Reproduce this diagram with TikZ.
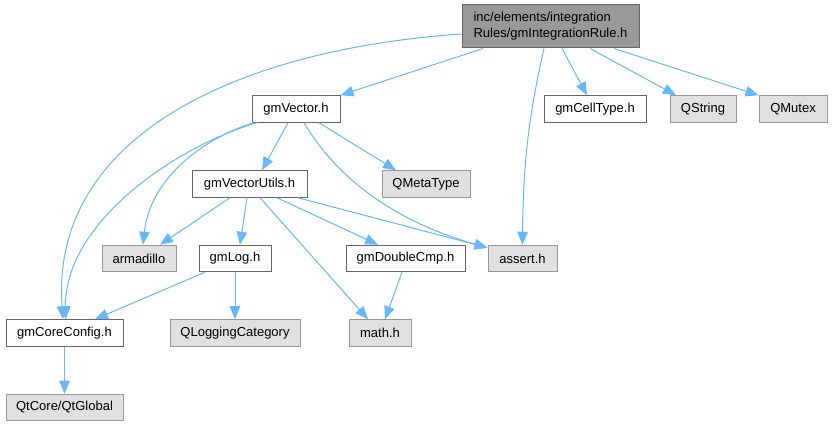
\documentclass[tikz,border=0pt]{standalone}
\usepackage{fontspec}
\setmainfont{Liberation Sans}
\usepackage{xcolor}
\usepackage{tikz}
\usetikzlibrary{arrows.meta}

\definecolor{edgeblue}{HTML}{63B8FF}
\definecolor{rootfill}{HTML}{999999}
\definecolor{darkline}{HTML}{666666}
\definecolor{extfill}{HTML}{E0E0E0}
\definecolor{extline}{HTML}{999999}

\begin{document}
\begin{tikzpicture}[x=1pt, y=-1pt,
    >={Triangle[length=13pt,width=10.5pt]},
    box/.style={draw, line width=1pt, minimum height=26.5pt, inner sep=2pt,
        font=\fontsize{13}{16}\selectfont},
    hdr/.style={box, draw=darkline, fill=white},
    ext/.style={box, draw=extline, fill=extfill},
    dep/.style={->, edgeblue, line width=1pt}]
    \useasboundingbox (0,0) rectangle (833,427);

    % Root header
    \node[box, draw=darkline, fill=rootfill, minimum width=177pt, minimum height=43pt, align=left]
        (root) at (550.5,26.5) {inc/elements/integration\\Rules/gmIntegrationRule.h};

    % Second row
    \node[hdr, minimum width=88pt] (vec) at (296,109) {gmVector.h};
    \node[hdr, minimum width=102pt] (cell) at (595,109) {gmCellType.h};
    \node[ext, minimum width=66pt] (qstr) at (703,109) {QString};
    \node[ext, minimum width=68pt] (qmutex) at (793,109) {QMutex};

    % Third row
    \node[hdr, minimum width=115pt] (vutil) at (249.5,184) {gmVectorUtils.h};
    \node[ext, minimum width=88pt] (qmeta) at (426,184) {QMetaType};

    % Fourth row
    \node[ext, minimum width=74pt] (arma) at (139,258.5) {armadillo};
    \node[hdr, minimum width=72pt] (log) at (235,258.5) {gmLog.h};
    \node[hdr, minimum width=119pt] (dcmp) at (405.5,258.5) {gmDoubleCmp.h};
    \node[ext, minimum width=69pt] (assert) at (522.5,258.5) {assert.h};

    % Fifth row
    \node[hdr, minimum width=117pt] (core) at (64.5,333) {gmCoreConfig.h};
    \node[ext, minimum width=130pt] (qlog) at (235,333) {QLoggingCategory};
    \node[ext, minimum width=62pt] (math) at (380,333) {math.h};

    % Bottom
    \node[ext, minimum width=117pt] (qtg) at (64.5,407.5) {QtCore/QtGlobal};

    % Edges from the root
    \draw[dep] ([yshift=-7.5pt]root.west) .. controls (230,50) and (50,140) .. ([xshift=-1.5pt]core.north);
    \draw[dep] ([xshift=-67.5pt]root.south) -- (vec.north east);
    \draw[dep] ([xshift=-6.5pt]root.south) .. controls (530,110) and (523,160) .. (assert.north);
    \draw[dep] ([xshift=11.5pt]root.south) -- ([xshift=-8pt]cell.north);
    \draw[dep] ([xshift=39.5pt]root.south) -- ([xshift=-27pt]qstr.north);
    \draw[dep] ([xshift=63.5pt]root.south) -- (qmutex.north west);

    % Edges from gmVector.h
    \draw[dep] ([xshift=-8pt]vec.south) -- ([xshift=12.5pt]vutil.north);
    \draw[dep] ([xshift=23pt]vec.south) -- ([xshift=-30pt]qmeta.north);
    \draw[dep] ([xshift=8pt]vec.south) .. controls (335,175) and (390,220) .. ([yshift=-3pt]assert.north west);
    \draw[dep] ([xshift=-39pt]vec.south) .. controls (180,145) and (65,220) .. ([xshift=1pt]core.north);
    \draw[dep] ([xshift=-43pt]vec.south) .. controls (200,140) and (150,180) .. ([xshift=4pt]arma.north);

    % Edges from gmVectorUtils.h
    \draw[dep] ([xshift=-19.5pt]vutil.south) -- ([xshift=21pt]arma.north);
    \draw[dep] ([xshift=-2.5pt]vutil.south) -- ([xshift=5pt]log.north);
    \draw[dep] ([xshift=10.5pt]vutil.south) -- ([xshift=-12pt]math.north);
    \draw[dep] ([xshift=27.5pt]vutil.south) -- ([xshift=-27.5pt]dcmp.north);
    \draw[dep] ([xshift=48.5pt]vutil.south) -- ([yshift=-3pt]assert.north west);

    % Lower edges
    \draw[dep] ([xshift=-30pt]log.south) -- ([xshift=30.5pt]core.north);
    \draw[dep] (log.south) -- (qlog.north);
    \draw[dep] ([xshift=-3.5pt]dcmp.south) -- ([xshift=5pt]math.north);
    \draw[dep] (core.south) -- (qtg.north);

\end{tikzpicture}
\end{document}
